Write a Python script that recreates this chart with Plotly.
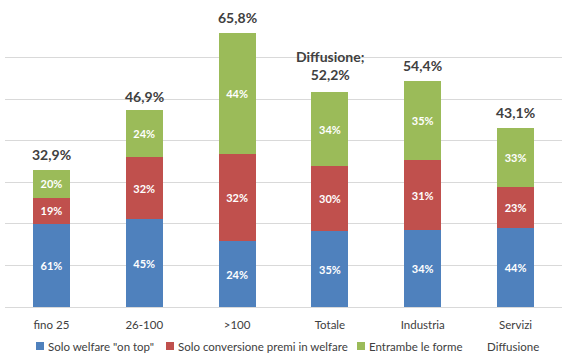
import plotly.graph_objects as go

categories = ["fino 25", "26-100", ">100", "Totale", "Industria", "Servizi"]
diffusione = [32.9, 46.9, 65.8, 52.2, 54.4, 43.1]
on_top = [61, 45, 24, 35, 34, 44]
conversione = [19, 32, 32, 30, 31, 23]
entrambe = [20, 24, 44, 34, 35, 33]
total_labels = ["32,9%", "46,9%", "65,8%", "Diffusione;<br>52,2%", "54,4%", "43,1%"]

series = [
    ("Solo welfare \"on top\"", on_top, "#4F81BD"),
    ("Solo conversione premi in welfare", conversione, "#C0504D"),
    ("Entrambe le forme", entrambe, "#9BBB59"),
    ("Diffusione", None, None),
]

FONT = "Lato"
W, H = 564, 354
L, R, T, B = 5, 2, 16, 47
pw, ph = W - L - R, H - T - B

fig = go.Figure()
for name, shares, color in series[:3]:
    fig.add_trace(go.Bar(
        x=categories,
        y=[d * s / 100 for d, s in zip(diffusione, shares)],
        name=name,
        marker=dict(color=color, line=dict(width=0)),
        text=[f"{s}%" for s in shares],
        textposition="inside",
        insidetextanchor="middle",
        textangle=0,
        textfont=dict(color="white", size=11, family=FONT, weight="bold"),
        hoverinfo="skip",
        showlegend=False,
    ))

for c, d, t in zip(categories, diffusione, total_labels):
    fig.add_annotation(x=c, y=d, text=t, showarrow=False, yanchor="bottom",
                       yshift=5, font=dict(size=14, color="#404040", family=FONT, weight="bold"))

# manual legend (pixel positions converted to paper coordinates)
legend_x = [36, 166, 357, 475]
legend_yc = 346
def px2x(px):
    return (px - L) / pw
def py2y(py):
    return (H - B - py) / ph
for (name, _, color), lx in zip(series, legend_x):
    if color:
        fig.add_shape(type="rect", xref="paper", yref="paper",
                      x0=px2x(lx), x1=px2x(lx + 8), y0=py2y(legend_yc + 4), y1=py2y(legend_yc - 4),
                      fillcolor=color, line=dict(width=0))
    fig.add_annotation(xref="paper", yref="paper", x=px2x(lx + 10), y=py2y(legend_yc),
                       xanchor="left", yanchor="middle", text=name, showarrow=False,
                       font=dict(size=11.5, color="#404040", family=FONT))

fig.update_layout(
    barmode="stack",
    bargap=0.6,
    width=W, height=H,
    margin=dict(l=L, r=R, t=T, b=B),
    paper_bgcolor="white", plot_bgcolor="white",
    font=dict(family=FONT, color="#404040", size=11),
    showlegend=False,
    xaxis=dict(showgrid=False, showline=True, linecolor="#D9D9D9", linewidth=1,
               ticks="outside", ticklen=7, tickcolor="rgba(0,0,0,0)",
               tickfont=dict(size=11.5, color="#404040")),
    yaxis=dict(range=[0, 70], dtick=10, showgrid=True, gridcolor="#D9D9D9",
               showticklabels=False, zeroline=False, fixedrange=True),
)

fig.write_html("out.html")
